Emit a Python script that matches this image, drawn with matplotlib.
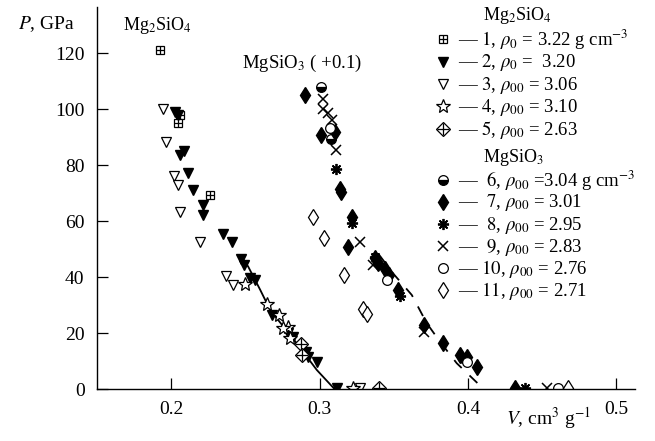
import matplotlib
matplotlib.use("Agg")
import matplotlib.pyplot as plt

plt.rcParams["font.family"] = ["Liberation Serif", "DejaVu Serif"]
plt.rcParams["mathtext.fontset"] = "stix"

# Mg2SiO4 data (V in cm3/g, P in GPa)
v1 = [0.1926, 0.2056, 0.2049, 0.2263]
p1 = [121.0, 97.9, 95.1, 69.3]
v2 = [0.2027, 0.2047, 0.2083, 0.2061, 0.2112, 0.2146, 0.2213, 0.2213, 0.2348, 0.2409,
      0.2469, 0.2492, 0.2532, 0.2566, 0.2678, 0.2790, 0.2824, 0.2909, 0.2924, 0.2981, 0.3116]
p2 = [99.0, 97.9, 85.1, 83.6, 77.3, 71.1, 65.7, 62.1, 55.4, 52.6,
      46.3, 44.3, 39.5, 38.9, 26.4, 19.9, 18.7, 13.3, 11.5, 9.8, 0.3]
v3 = [0.1948, 0.1966, 0.2020, 0.2043, 0.2061, 0.2195, 0.2370, 0.2415, 0.3273]
p3 = [99.9, 88.3, 76.1, 72.9, 63.3, 52.6, 40.4, 37.1, 0.3]
v4 = [0.2498, 0.2644, 0.2723, 0.2790, 0.2756, 0.2801, 0.3223]
p4 = [37.5, 30.4, 26.4, 22.3, 21.7, 18.1, 0.3]
v5 = [0.2875, 0.2880, 0.3402]
p5 = [16.2, 12.1, 0.3]

# MgSiO3 data, shifted by +0.1 cm3/g
v6 = [0.3010, 0.3077, 0.3969]
p6 = [108.0, 89.5, 11.0]
v7 = [0.2902, 0.3008, 0.3104, 0.3134, 0.3141, 0.3217, 0.3194, 0.3374, 0.3396, 0.3441,
      0.3470, 0.3531, 0.3700, 0.3834, 0.3946, 0.3991, 0.4059, 0.4317]
p7 = [105.0, 90.7, 91.9, 71.3, 70.5, 61.5, 50.8, 46.7, 44.9, 42.8,
      40.7, 35.4, 22.9, 16.3, 12.1, 11.5, 8.0, 0.3]
v8 = [0.3111, 0.3217, 0.3374, 0.3542, 0.4384]
p8 = [78.5, 59.2, 47.0, 33.3, 0.3]
v9 = [0.3021, 0.3026, 0.3059, 0.3082, 0.3111, 0.3273, 0.3362, 0.3700, 0.4530]
p9 = [103.5, 99.9, 98.5, 96.1, 85.4, 52.6, 44.3, 20.5, 0.3]
v10 = [0.3071, 0.3457, 0.3991, 0.4608]
p10 = [93.1, 38.9, 9.8, 0.3]
v11 = [0.2954, 0.3032, 0.3167, 0.3291, 0.3322, 0.4675]
p11 = [61.3, 53.8, 40.7, 28.5, 26.8, 0.3]

# fitted curves
v_fit1 = [0.2490, 0.2519, 0.2600, 0.2667, 0.2756, 0.2846, 0.2981, 0.3100]
p_fit1 = [46.0, 43.7, 35.4, 28.2, 22.3, 16.3, 6.8, 0.0]
v_fit2 = [0.3400, 0.3500, 0.3621, 0.3722, 0.3811, 0.3924, 0.4105]
p_fit2 = [48.0, 41.0, 33.6, 23.5, 16.9, 9.2, 0.0]

labels = [
    r"— $\mathit{1}$, $\rho_0$ = 3.22 g cm$^{-3}$",
    r"— $\mathit{2}$, $\rho_0$ =  3.20",
    r"— $\mathit{3}$, $\rho_{00}$ = 3.06",
    r"— $\mathit{4}$, $\rho_{00}$ = 3.10",
    r"— $\mathit{5}$, $\rho_{00}$ = 2.63",
    r"—  $\mathit{6}$, $\rho_{00}$ =3.04 g cm$^{-3}$",
    r"—  $\mathit{7}$, $\rho_{00}$ = 3.01",
    r"—  $\mathit{8}$, $\rho_{00}$ = 2.95",
    r"—  $\mathit{9}$, $\rho_{00}$ = 2.83",
    r"— $\mathit{10}$, $\rho_{00}$ = 2.76",
    r"— $\mathit{11}$, $\rho_{00}$ = 2.71",
]

W, H = 655, 441


def px(x, y):
    return x / W, 1 - y / H


k = "black"
styles = [
    [dict(marker="s", mfc="white", mec=k, ms=6, mew=0.9), dict(marker="+", mec=k, ms=6, mew=0.9)],
    [dict(marker="v", mfc=k, mec=k, ms=7.5)],
    [dict(marker="v", mfc="white", mec=k, ms=7.5, mew=0.9)],
    [dict(marker="*", mfc="white", mec=k, ms=10, mew=0.9)],
    [dict(marker="D", mfc="white", mec=k, ms=7, mew=0.9), dict(marker="+", mec=k, ms=8, mew=0.9)],
    [dict(marker="o", fillstyle="bottom", mfc=k, mfcalt="white", mec=k, ms=7, mew=0.9)],
    [dict(marker="d", mfc=k, mec=k, ms=8)],
    [dict(marker=(8, 2, 0), mec=k, ms=8, mew=1.3)],
    [dict(marker="x", mec=k, ms=7, mew=1.1)],
    [dict(marker="o", mfc="white", mec=k, ms=7, mew=0.9)],
    [dict(marker="d", mfc="white", mec=k, ms=8, mew=0.9)],
]
series = [(v1, p1), (v2, p2), (v3, p3), (v4, p4), (v5, p5), (v6, p6),
          (v7, p7), (v8, p8), (v9, p9), (v10, p10), (v11, p11)]

fig = plt.figure(figsize=(6.55, 4.41), dpi=100)
x0, y0 = px(97, 389)
x1, y1 = px(635, 7)
ax = fig.add_axes([x0, y0, x1 - x0, y1 - y0])

ax.plot(v_fit1, p_fit1, color=k, lw=1.3)
ax.plot(v_fit2, p_fit2, color=k, lw=1.3, linestyle=(0, (6, 6)))

for (vv, pp), st in zip(series, styles):
    for s in st:
        ax.plot(vv, pp, linestyle="none", **s)

ax.set_xlim(0.15, 0.5125)
ax.set_ylim(0, 136.5)
ax.spines["top"].set_visible(False)
ax.spines["right"].set_visible(False)
for sp in ("left", "bottom"):
    ax.spines[sp].set_linewidth(1.0)
ax.set_xticks([0.2, 0.3, 0.4, 0.5])
ax.set_xticklabels(["0.2", "0.3", "0.4", "0.5"])
ax.set_yticks([0, 20, 40, 60, 80, 100, 120])
ax.tick_params(direction="in", length=8, width=0.9, labelsize=14)
ax.tick_params(axis="x", pad=9)
ax.tick_params(axis="y", pad=9)

# axis titles
fig.text(*px(46, 24), r"$P$, GPa", fontsize=14, ha="center", va="center")
fig.text(*px(549, 418), r"$V$, cm$^3$ g$^{-1}$", fontsize=14, ha="center", va="center")

# labels on the plot
fig.text(*px(123, 26), r"Mg$_2$SiO$_4$", fontsize=13, ha="left", va="center")
fig.text(*px(242, 63), r"MgSiO$_3$ ( +0.1)", fontsize=13.5, ha="left", va="center")

# legend
fig.text(*px(483, 16), r"Mg$_2$SiO$_4$", fontsize=13, ha="left", va="center")
fig.text(*px(483, 158), r"MgSiO$_3$", fontsize=13, ha="left", va="center")
rows_y = [39, 61.5, 84, 106.5, 128.5, 180, 202, 224, 246, 268, 290]
for yy, lab, st in zip(rows_y, labels, styles):
    mx, my = px(443, yy)
    for s in st:
        ax.plot([mx], [my], transform=fig.transFigure, clip_on=False, linestyle="none", **s)
    fig.text(*px(458, yy + 1), lab, fontsize=13.5, ha="left", va="center")

fig.savefig("out.png", dpi=100)
